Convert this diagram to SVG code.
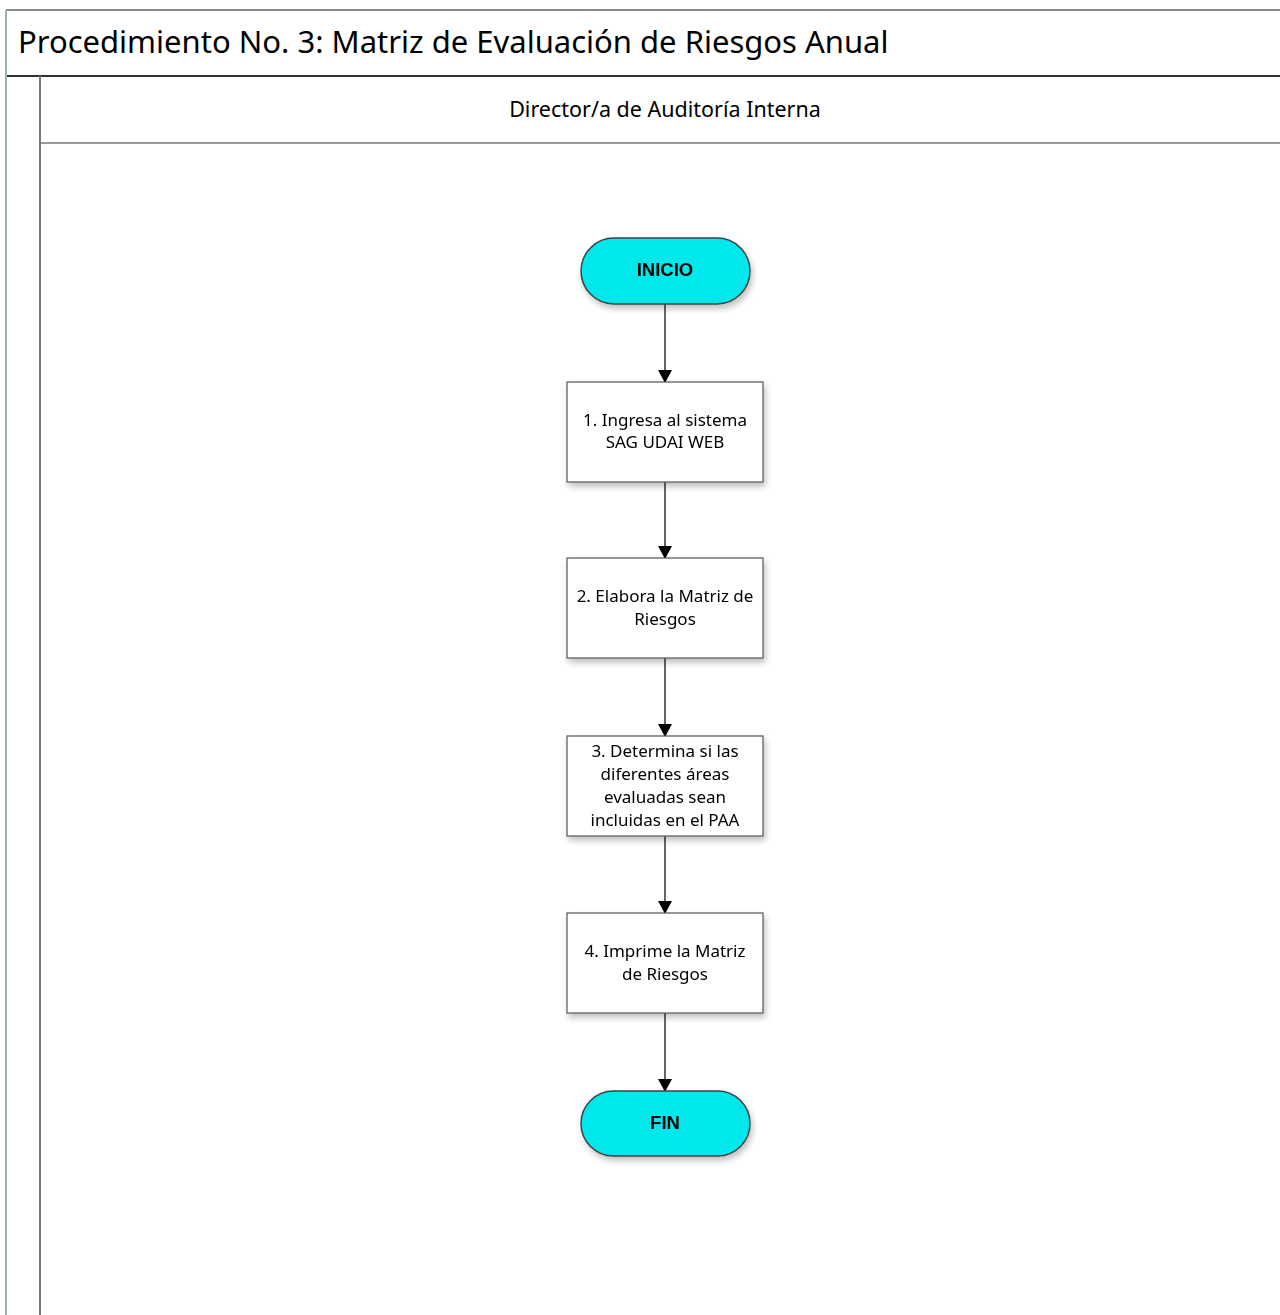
<svg xmlns="http://www.w3.org/2000/svg" width="1280" height="1315" viewBox="0 0 1280 1315">
<style>
.frame{fill:none;stroke:#5a6460;stroke-width:1.5}
.term{fill:#00e8ec;stroke:#404040;stroke-width:1.5}
.proc{fill:#ffffff;stroke:#555555;stroke-width:1.2}
.tt{font-family:Arial,"Liberation Sans",sans-serif;font-weight:bold;font-size:18.5px;fill:#000;text-anchor:middle}
.pt{font-family:"Noto Sans","Open Sans",sans-serif;font-size:17px;fill:#000;text-anchor:middle}
.conn{stroke:#000;stroke-width:1.2;fill:none;marker-end:url(#arr)}
</style>
<defs>
<marker id="arr" markerWidth="14" markerHeight="14" refX="12" refY="7" orient="auto" markerUnits="userSpaceOnUse">
<path d="M0,0 L13,7 L0,14 Z" fill="#000"/>
</marker>
<filter id="sh" x="-20%" y="-20%" width="140%" height="140%">
<feGaussianBlur in="SourceAlpha" stdDeviation="3"/>
<feOffset dx="2" dy="4" result="b"/>
<feComponentTransfer><feFuncA type="linear" slope="0.25"/></feComponentTransfer>
<feMerge><feMergeNode/><feMergeNode in="SourceGraphic"/></feMerge>
</filter>
</defs>
<rect width="1280" height="1315" fill="#fff"/>
<g id="pool">
<line x1="6" y1="10" x2="1280" y2="10" class="frame"/>
<line x1="6" y1="76" x2="1280" y2="76" stroke="#333" stroke-width="2"/>
<line x1="6" y1="10" x2="6" y2="1315" stroke="#9fb3ad" stroke-width="2"/>
<line x1="40" y1="76" x2="40" y2="1315" stroke="#6f7f7a" stroke-width="2"/>
<line x1="40" y1="143" x2="1280" y2="143" stroke="#777" stroke-width="1.5"/>
<text x="18" y="53" font-family="'Noto Sans','Open Sans',sans-serif" font-size="31" fill="#000">Procedimiento No. 3: Matriz de Evaluación de Riesgos Anual</text>
<text x="665" y="117" font-family="'Noto Sans','Open Sans',sans-serif" font-size="21.5" fill="#000" text-anchor="middle">Director/a de Auditoría Interna</text>
</g>
<g id="connectors">
<line x1="665" y1="304" x2="665" y2="382" class="conn"/>
<line x1="665" y1="482" x2="665" y2="558" class="conn"/>
<line x1="665" y1="658" x2="665" y2="736" class="conn"/>
<line x1="665" y1="836" x2="665" y2="913" class="conn"/>
<line x1="665" y1="1013" x2="665" y2="1091" class="conn"/>
</g>
<g id="inicio" filter="url(#sh)">
<rect x="581" y="238" width="169" height="66" rx="33" class="term"/>
<text x="665" y="276" class="tt">INICIO</text>
</g>
<g id="paso1" filter="url(#sh)">
<rect x="567" y="382" width="196" height="100" class="proc"/>
<text x="665" y="426" class="pt">1. Ingresa al sistema</text>
<text x="665" y="448" class="pt">SAG UDAI WEB</text>
</g>
<g id="paso2" filter="url(#sh)">
<rect x="567" y="558" width="196" height="100" class="proc"/>
<text x="665" y="602" class="pt">2. Elabora la Matriz de</text>
<text x="665" y="625" class="pt">Riesgos</text>
</g>
<g id="paso3" filter="url(#sh)">
<rect x="567" y="736" width="196" height="100" class="proc"/>
<text x="665" y="757" class="pt">3. Determina si las</text>
<text x="665" y="780" class="pt">diferentes áreas</text>
<text x="665" y="803" class="pt">evaluadas sean</text>
<text x="665" y="826" class="pt">incluidas en el PAA</text>
</g>
<g id="paso4" filter="url(#sh)">
<rect x="567" y="913" width="196" height="100" class="proc"/>
<text x="665" y="957" class="pt">4. Imprime la Matriz</text>
<text x="665" y="980" class="pt">de Riesgos</text>
</g>
<g id="fin" filter="url(#sh)">
<rect x="581" y="1091" width="169" height="65" rx="32.5" class="term"/>
<text x="665" y="1129" class="tt">FIN</text>
</g>
</svg>
